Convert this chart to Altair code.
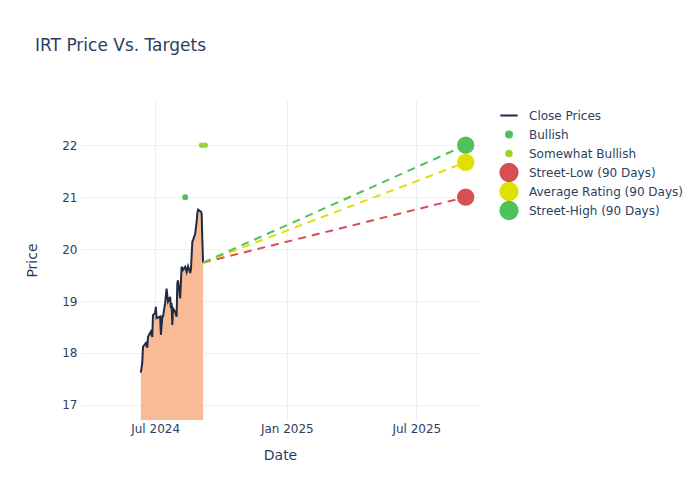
import altair as alt
import pandas as pd

# ---- data ----
close_dates = [
    "2024-06-11", "2024-06-13", "2024-06-14", "2024-06-18", "2024-06-20", "2024-06-21",
    "2024-06-25", "2024-06-27", "2024-06-28", "2024-07-01", "2024-07-02", "2024-07-03",
    "2024-07-08", "2024-07-09", "2024-07-11", "2024-07-12", "2024-07-15", "2024-07-17",
    "2024-07-19", "2024-07-22", "2024-07-23", "2024-07-24", "2024-07-25", "2024-07-26",
    "2024-07-29", "2024-07-31", "2024-08-01", "2024-08-02", "2024-08-05", "2024-08-07",
    "2024-08-09", "2024-08-12", "2024-08-14", "2024-08-16", "2024-08-19", "2024-08-20",
    "2024-08-22", "2024-08-23", "2024-08-26", "2024-08-28", "2024-08-29", "2024-08-30",
    "2024-09-03", "2024-09-04", "2024-09-05", "2024-09-06",
]
close_values = [
    17.62, 17.81, 18.12, 18.19, 18.10, 18.31,
    18.41, 18.31, 18.73, 18.77, 18.89, 18.67,
    18.70, 18.35, 18.70, 18.70, 18.96, 19.24,
    18.99, 19.08, 18.86, 18.96, 18.54, 18.86,
    18.79, 18.70, 19.34, 19.40, 19.05, 19.66,
    19.60, 19.66, 19.56, 19.67, 19.54, 19.61,
    20.14, 20.17, 20.30, 20.53, 20.69, 20.76,
    20.72, 20.69, 20.17, 19.74,
]

bullish_dates = ["2024-08-12"]
bullish_values = [21.0]
somewhat_dates = ["2024-09-04", "2024-09-09"]
somewhat_values = [22.0, 22.0]

target_date = "2025-09-08"
target_names = ["Street-Low (90 Days)", "Average Rating (90 Days)", "Street-High (90 Days)"]
target_values = [21.0, 21.67, 22.0]

series_names = ["Close Prices", "Bullish", "Somewhat Bullish"] + target_names
series_colors = ["#1f2b46", "#4fc35a", "#9bd52c", "#d64f55", "#e0e000", "#4fc35a"]
series_shapes = ["stroke", "circle", "circle", "circle", "circle", "circle"]
series_sizes = [300, 36, 30, 300, 300, 300]

# ---- tables ----
close_df = pd.DataFrame({"date": close_dates, "price": close_values, "series": "Close Prices"})

pts_df = pd.concat([
    pd.DataFrame({"date": bullish_dates, "price": bullish_values, "series": "Bullish"}),
    pd.DataFrame({"date": somewhat_dates, "price": somewhat_values, "series": "Somewhat Bullish"}),
    pd.DataFrame({"date": [target_date] * 3, "price": target_values, "series": target_names}),
], ignore_index=True)

dash_rows = []
for n, v in zip(target_names, target_values):
    dash_rows.append({"date": close_dates[-1], "price": close_values[-1], "series": n})
    dash_rows.append({"date": target_date, "price": v, "series": n})
dash_df = pd.DataFrame(dash_rows)

FONT = "DejaVu Sans"
TXT = "#2a3f5f"

x_enc = alt.X(
    "date:T",
    title="Date",
    scale=alt.Scale(domain=["2024-03-18", "2025-09-28"]),
    axis=alt.Axis(
        values=[alt.DateTime(year=2024, month=7, date=1),
                alt.DateTime(year=2025, month=1, date=1),
                alt.DateTime(year=2025, month=7, date=1)],
        format="%b %Y",
        labelPadding=3,
        titlePadding=14,
    ),
)
y_enc = alt.Y(
    "price:Q",
    title="Price",
    scale=alt.Scale(domain=[16.71, 22.87], zero=False, nice=False),
    axis=alt.Axis(values=[17, 18, 19, 20, 21, 22], labelPadding=3, titlePadding=22),
)

color_scale = alt.Scale(domain=series_names, range=series_colors)
legend = alt.Legend(
    title=None,
    orient="none",
    legendX=419,
    legendY=6,
    labelFont=FONT,
    labelFontSize=12,
    labelColor=TXT,
    rowPadding=0,
    clipHeight=19,
    symbolStrokeWidth=2,
    labelOffset=10,
    symbolOpacity=1,
    symbolFillColor=alt.ExprRef("scale('color', datum.value)"),
    symbolStrokeColor=alt.ExprRef("scale('color', datum.value)"),
)

area = alt.Chart(close_df).mark_area(color="#f9bb95", opacity=1, clip=True).encode(x=x_enc, y=y_enc)

line = alt.Chart(close_df).mark_line(strokeWidth=2, clip=True).encode(
    x=x_enc, y=y_enc,
    color=alt.Color("series:N", scale=color_scale, legend=legend),
)

dashes = alt.Chart(dash_df).mark_line(strokeWidth=2, strokeDash=[8, 6], clip=True).encode(
    x=x_enc, y=y_enc,
    color=alt.Color("series:N", scale=color_scale, legend=legend),
    detail="series:N",
)

points = alt.Chart(pts_df).mark_point(filled=True, opacity=1, clip=True).encode(
    x=x_enc, y=y_enc,
    color=alt.Color("series:N", scale=color_scale, legend=legend),
    shape=alt.Shape("series:N", scale=alt.Scale(domain=series_names, range=series_shapes), legend=legend),
    size=alt.Size("series:N", scale=alt.Scale(type="ordinal", domain=series_names, range=series_sizes), legend=legend),
)

chart = alt.layer(area, line, dashes, points).properties(
    width=400,
    height=320,
    autosize=alt.AutoSizeParams(type="none"),
    padding={"left": 72, "top": 92, "right": 212, "bottom": 72},
    title=alt.Title(
        "IRT Price Vs. Targets",
        anchor="start",
        frame="group",
        dx=-45,
        offset=32,
        baseline="alphabetic",
        font=FONT,
        fontSize=17,
        fontWeight="normal",
        color=TXT,
    ),
).configure_view(stroke=None).configure_axis(
    grid=True,
    gridColor="#ebf0f8",
    gridWidth=1,
    domain=False,
    ticks=False,
    labelFont=FONT,
    labelFontSize=12,
    labelColor=TXT,
    titleFont=FONT,
    titleFontSize=14,
    titleFontWeight="normal",
    titleColor=TXT,
)

chart.save("out.html", embed_options={"renderer": "svg", "actions": False})
